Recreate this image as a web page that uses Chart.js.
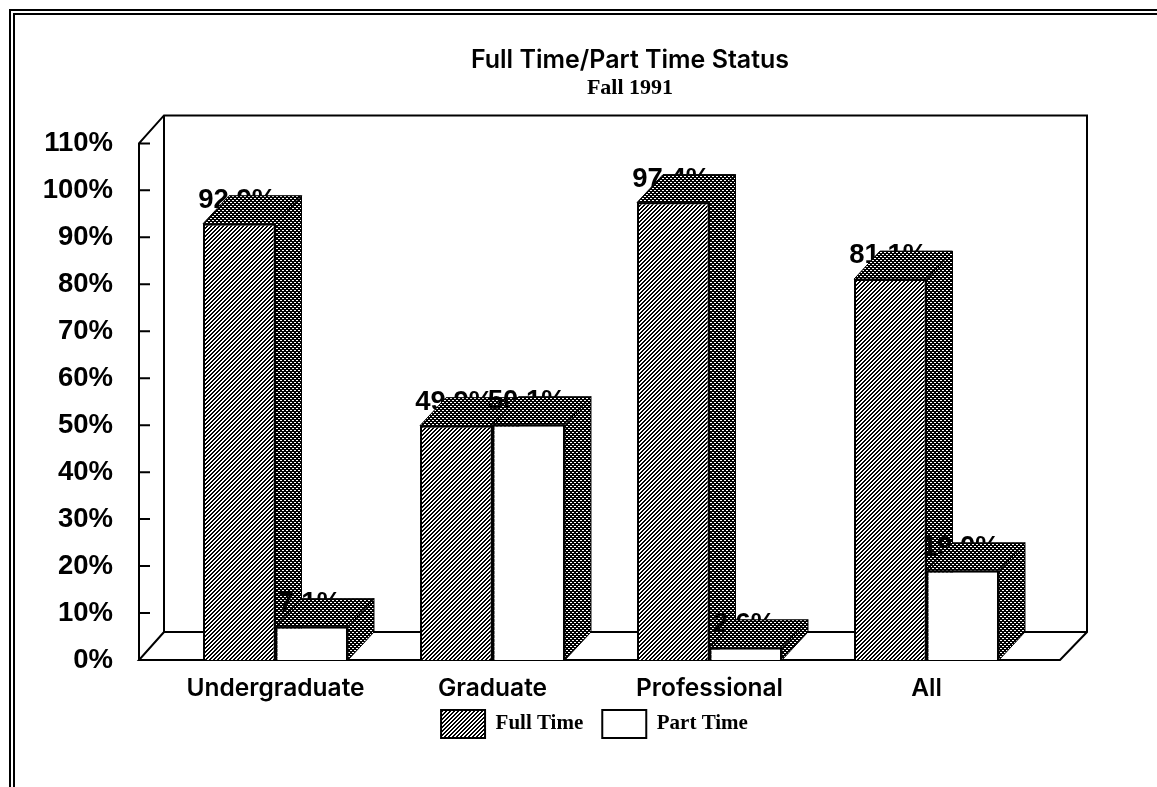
<!DOCTYPE html>
<html>
<head>
<meta charset="utf-8">
<title>Full Time/Part Time Status</title>
<script src="https://cdn.jsdelivr.net/npm/chart.js@4"></script>
<style>
  html, body { margin: 0; padding: 0; background: #fff; overflow: hidden; }
</style>
</head>
<body>
<canvas id="chart" width="1157" height="787"></canvas>
<script>
const categories = ["Undergraduate", "Graduate", "Professional", "All"];
const fullTime = [92.9, 49.9, 97.4, 81.1];
const partTime = [7.1, 50.1, 2.6, 19.0];
const seriesNames = ["Full Time", "Part Time"];
const chartTitle = "Full Time/Part Time Status";
const chartSubtitle = "Fall 1991";

const sansFont = "Inter, 'Liberation Sans', sans-serif";
const axisFont = "'Liberation Sans', sans-serif";
const serifFont = "'Liberation Serif', serif";
//depth of the fake 3D, in pixels
const depthX = 26;
const depthY = 28;

//Small tile filled pixel by pixel, used for the scanned looking fills
function makePattern(size, isDark) {
  const tile = document.createElement("canvas");
  tile.width = size;
  tile.height = size;
  const tileCtx = tile.getContext("2d");
  tileCtx.fillStyle = "#fff";
  tileCtx.fillRect(0, 0, size, size);
  tileCtx.fillStyle = "#000";
  for (let x = 0; x < size; x++) {
    for (let y = 0; y < size; y++) {
      if (isDark(x, y)) tileCtx.fillRect(x, y, 1, 1);
    }
  }
  return tileCtx.createPattern(tile, "repeat");
}
const hatchFill = makePattern(4, (x, y) => (x + y) % 4 < 2);
const stippleFill = makePattern(4, (x, y) => !((y == 0 && x < 2) || (y == 2 && x >= 2)));

function drawFace(ctx, points) {
  ctx.beginPath();
  points.forEach((p, i) => (i == 0 ? ctx.moveTo(p[0], p[1]) : ctx.lineTo(p[0], p[1])));
  ctx.closePath();
  ctx.fillStyle = stippleFill;
  ctx.fill();
  ctx.stroke();
}

//Frame, walls and floor, drawn behind the bars
const wallsPlugin = {
  id: "walls",
  beforeDatasetsDraw(chart) {
    const ctx = chart.ctx;
    const y = chart.scales.y;
    const top = y.getPixelForValue(110);
    const bottom = y.getPixelForValue(0);
    const left = 139;
    const right = 1060;
    ctx.save();
    ctx.strokeStyle = "#000";
    ctx.lineWidth = 2;
    ctx.beginPath();
    ctx.moveTo(left, bottom);
    ctx.lineTo(left, top);
    ctx.lineTo(left + 25, top - depthY);
    ctx.lineTo(right + 27, top - depthY);
    ctx.lineTo(right + 27, bottom - depthY);
    ctx.lineTo(right, bottom);
    ctx.lineTo(left, bottom);
    ctx.lineTo(left + 25, bottom - depthY);
    ctx.lineTo(left + 25, top - depthY);
    ctx.moveTo(left + 25, bottom - depthY);
    ctx.lineTo(right + 27, bottom - depthY);
    for (const tick of y.ticks) {
      const tickY = y.getPixelForValue(tick.value);
      ctx.moveTo(left, tickY);
      ctx.lineTo(left + 11, tickY);
    }
    ctx.stroke();
    //double page frame, open on the right and at the bottom
    ctx.beginPath();
    ctx.moveTo(10, 787);
    ctx.lineTo(10, 10);
    ctx.lineTo(1157, 10);
    ctx.moveTo(14, 787);
    ctx.lineTo(14, 14);
    ctx.lineTo(1157, 14);
    ctx.stroke();

    //labels first, the top faces cover part of them like in the original
    chart.data.datasets.forEach((dataset, d) => {
      chart.getDatasetMeta(d).data.forEach((bar, i) => {
        const barLeft = bar.x - bar.width / 2;
        const barRight = bar.x + bar.width / 2;
        ctx.fillStyle = "#000";
        ctx.font = "bold 27.5px " + axisFont;
        ctx.textAlign = "center";
        ctx.textBaseline = "alphabetic";
        ctx.fillText(dataset.data[i].toFixed(1) + "%", bar.x - 2, bar.y - 16);
        ctx.lineWidth = 1;
        drawFace(ctx, [
          [barRight, bar.y],
          [barRight + depthX, bar.y - depthY],
          [barRight + depthX, bar.base - depthY],
          [barRight, bar.base],
        ]);
        drawFace(ctx, [
          [barLeft, bar.y],
          [barLeft + depthX, bar.y - depthY],
          [barRight + depthX, bar.y - depthY],
          [barRight, bar.y],
        ]);
      });
    });
    ctx.restore();
  },
  //Title and legend are not centred on the page in the original
  afterLayout(chart) {
    chart.boxes.forEach((box) => {
      if (box.options && box.options.text) {
        box.left += 112.5;
        box.right += 112.5;
      }
    });
    chart.legend.left += 77;
    chart.legend.right += 77;
    //legend sits closer to the axis labels than the x scale box allows
    chart.legend.top -= 11;
    chart.legend.bottom -= 11;
  },
};

new Chart(document.getElementById("chart"), {
  type: "bar",
  data: {
    labels: categories,
    datasets: [
      {
        label: seriesNames[0],
        data: fullTime,
        backgroundColor: hatchFill,
        borderColor: "#000",
        borderWidth: 2,
      },
      {
        label: seriesNames[1],
        data: partTime,
        backgroundColor: "#fff",
        borderColor: "#000",
        borderWidth: 2,
      },
    ],
  },
  options: {
    responsive: false,
    animation: false,
    layout: { padding: { left: 0, right: 122, top: 0, bottom: 28 } },
    datasets: { bar: { categoryPercentage: 0.668, barPercentage: 1 } },
    scales: {
      x: {
        afterFit(scale) {
          scale.height = 42;
        },
        grid: { display: false },
        border: { display: false },
        ticks: {
          color: "#000",
          padding: 6,
          maxRotation: 0,
          font: { family: sansFont, size: 24.5, weight: 600 },
        },
      },
      y: {
        min: 0,
        max: 110,
        afterFit(scale) {
          scale.width = 167;
        },
        grid: { display: false },
        border: { display: false },
        ticks: {
          stepSize: 10,
          color: "#000",
          padding: 46,
          callback: (value) => value + "%",
          font: { family: axisFont, size: 27.5, weight: "bold" },
        },
      },
    },
    plugins: {
      title: {
        display: true,
        text: chartTitle,
        color: "#000",
        padding: { top: 45, bottom: 0 },
        font: { family: sansFont, size: 25, weight: 600 },
      },
      subtitle: {
        display: true,
        text: chartSubtitle,
        color: "#000",
        padding: { top: 0, bottom: 42 },
        font: { family: serifFont, size: 22, weight: "bold" },
      },
      legend: {
        position: "bottom",
        labels: {
          color: "#000",
          boxWidth: 44,
          boxHeight: 28,
          padding: 19,
          font: { family: serifFont, size: 21, weight: "bold" },
        },
      },
      tooltip: { enabled: false },
    },
  },
  plugins: [wallsPlugin],
});
</script>
</body>
</html>
